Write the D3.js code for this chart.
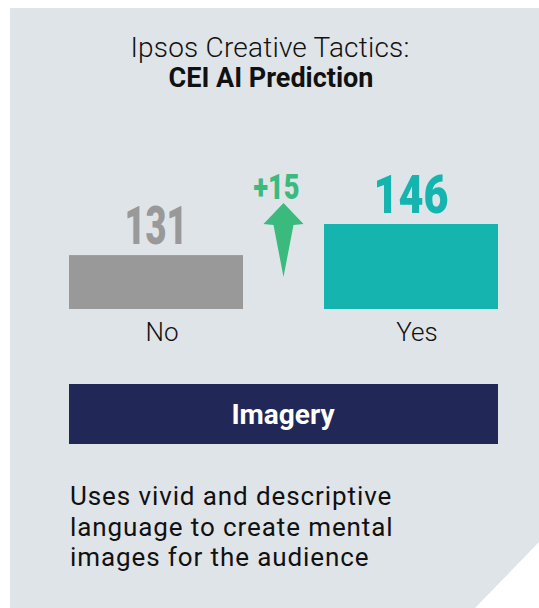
<!DOCTYPE html>
<html>
<head>
<meta charset="utf-8">
<script src="https://cdn.jsdelivr.net/npm/d3@7"></script>
<style>
  body { margin: 0; background: #fff; }
  text { font-family: Roboto, "Noto Sans", sans-serif; }
</style>
</head>
<body>
<div id="chart"></div>
<script>
// data
const categories = ["No", "Yes"]
const values = [131, 146]
const barColors = ["#999999", "#16b4af"]
const titleLines = ["Ipsos Creative Tactics:", "CEI AI Prediction"]
const tacticName = "Imagery"
const descLines = ["Uses vivid and descriptive", "language to create mental", "images for the audience"]

const width = 539, height = 608

const svg = d3.select("#chart")
  .append("svg")
  .attr("width", width)
  .attr("height", height)

// panel with the cut corner
svg.append("path")
  .attr("d", "M10,8 H539 V542 L475,608 H10 Z")
  .attr("fill", "#dfe4e8")

// title
svg.append("text")
  .attr("x", 270).attr("y", 57)
  .attr("text-anchor", "middle")
  .style("font-size", "28px")
  .style("font-weight", 300)
  .style("letter-spacing", "0.2px")
  .attr("fill", "#111")
  .text(titleLines[0])
svg.append("text")
  .attr("x", 271).attr("y", 87)
  .attr("text-anchor", "middle")
  .style("font-size", "27px")
  .style("font-weight", 700)
  .attr("fill", "#111")
  .text(titleLines[1])

// scales
const x = d3.scaleBand()
  .domain(categories)
  .range([69, 498])
  .paddingInner(81 / 255)
  .paddingOuter(0)

const y = d3.scaleLinear()
  .domain([105, 146])
  .range([309, 224])

const data = categories.map((c, i) => ({ cat: c, value: values[i], color: barColors[i] }))

svg.selectAll("rect.bar")
  .data(data)
  .enter().append("rect")
  .attr("class", "bar")
  .attr("x", d => x(d.cat))
  .attr("y", d => y(d.value))
  .attr("width", x.bandwidth())
  .attr("height", d => y.range()[0] - y(d.value))
  .attr("fill", d => d.color)

// value labels
const labelW = { 131: 63, 146: 75 }
svg.selectAll("text.val")
  .data(data)
  .enter().append("text")
  .attr("class", "val")
  .attr("x", d => x(d.cat) + x.bandwidth() / 2)
  .attr("y", d => y(d.value) - 11)
  .attr("text-anchor", "middle")
  .attr("textLength", d => labelW[d.value] || null)
  .attr("lengthAdjust", "spacingAndGlyphs")
  .style("font-size", "54px")
  .style("font-weight", 900)
  .attr("fill", d => d.color)
  .text(d => d.value)

// category labels
svg.selectAll("text.cat")
  .data(data)
  .enter().append("text")
  .attr("class", "cat")
  .attr("x", d => x(d.cat) + x.bandwidth() / 2 + 6)
  .attr("y", 341)
  .attr("text-anchor", "middle")
  .style("font-size", "26px")
  .style("font-weight", 300)
  .attr("fill", "#111")
  .text(d => d.cat)

// difference arrow
const diff = values[1] - values[0]
const gx = (x("No") + x.bandwidth() + x("Yes")) / 2
const arrow = svg.append("g").attr("transform", `translate(${gx}, 203)`)
arrow.append("path")
  .attr("d", "M0,0 L20,21 L10,22 L0,74 L-10,22 L-20,21 Z")
  .attr("fill", "#3bba7e")
svg.append("text")
  .attr("x", gx - 7).attr("y", 199)
  .attr("text-anchor", "middle")
  .attr("textLength", 46)
  .attr("lengthAdjust", "spacingAndGlyphs")
  .style("font-size", "35px")
  .style("font-weight", 900)
  .attr("fill", "#3bba7e")
  .text((diff > 0 ? "+" : "") + diff)

// tactic box
svg.append("rect")
  .attr("x", 69).attr("y", 384)
  .attr("width", 429).attr("height", 60)
  .attr("fill", "#212858")
svg.append("text")
  .attr("x", 283).attr("y", 424)
  .attr("text-anchor", "middle")
  .style("font-size", "28px")
  .style("font-weight", 700)
  .attr("fill", "#fff")
  .text(tacticName)

// description
svg.append("g")
  .selectAll("text")
  .data(descLines)
  .enter().append("text")
  .attr("x", 70)
  .attr("y", (d, i) => 505 + i * 30.5)
  .style("font-size", "26px")
  .style("letter-spacing", "0.9px")
  .attr("fill", "#111")
  .text(d => d)
</script>
</body>
</html>
